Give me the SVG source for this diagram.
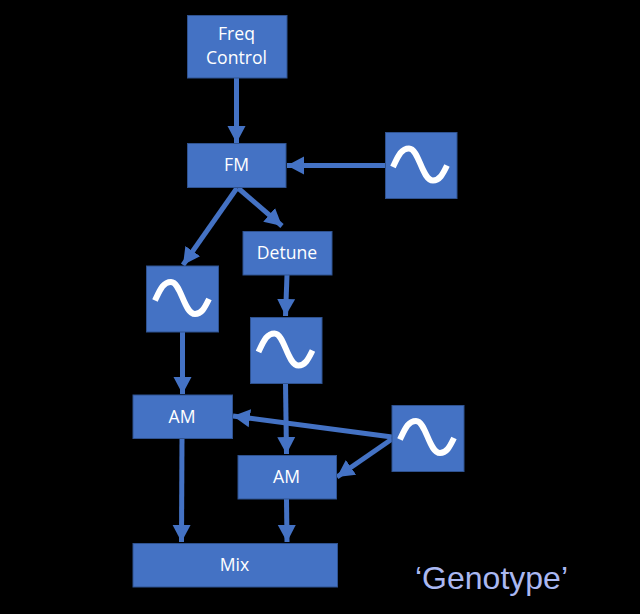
<svg xmlns="http://www.w3.org/2000/svg" width="640" height="614" viewBox="0 0 640 614">
<style>
.b{fill:#4472c4;stroke:#2f528f;stroke-width:1}
.t{font-family:"Open Sans","Noto Sans",sans-serif;font-size:17.600px;fill:#fff;text-anchor:middle}
.s{fill:none;stroke:#fff;stroke-width:6}
.c{fill:none;stroke:#4472c4;stroke-width:5;marker-end:url(#a)}
</style>
<defs>
<marker id="a" markerUnits="userSpaceOnUse" markerWidth="20" markerHeight="20" refX="17" refY="10" orient="auto"><path d="M0 1L17 10L0 19Z" fill="#4472c4"/></marker>
<path id="w" d="M-27 2.500C-22 -8 -19 -16 -11 -16C-1 -16 2 16 13 16C20 16 23 9 27 1"/>
</defs>
<rect width="640" height="614" fill="#000"/>
<g id="connectors">
<path class="c" d="M236.500 78L236.500 143"/>
<path class="c" d="M385 165.500L287 165.500"/>
<path class="c" d="M237 188L183 265"/>
<path class="c" d="M238 188L282 226"/>
<path class="c" d="M287 275L285.500 316"/>
<path class="c" d="M182.500 332L182.500 394"/>
<path class="c" d="M285.500 383L286.500 454"/>
<path class="c" d="M392 437L233 416"/>
<path class="c" d="M392 439L337 477"/>
<path class="c" d="M182 438L181.500 542"/>
<path class="c" d="M286.500 499L287 542"/>
</g>
<g id="freq"><rect class="b" x="187.500" y="15.500" width="99.500" height="62.500"/><text class="t" x="236.500" y="39.500">Freq</text><text class="t" x="236.500" y="64">Control</text></g>
<g id="fm"><rect class="b" x="187.500" y="143.500" width="98.500" height="44"/><text class="t" x="236.500" y="171">FM</text></g>
<g id="osc1"><rect class="b" x="385.500" y="132.500" width="71.500" height="66"/><use href="#w" class="s" x="420" y="164.500"/></g>
<g id="detune"><rect class="b" x="243" y="231.500" width="89" height="43.500"/><text class="t" x="287" y="259">Detune</text></g>
<g id="osc2"><rect class="b" x="146.500" y="266" width="72" height="66"/><use href="#w" class="s" x="182" y="298"/></g>
<g id="osc3"><rect class="b" x="250.500" y="317.500" width="71.500" height="66"/><use href="#w" class="s" x="285.500" y="349.500"/></g>
<g id="am1"><rect class="b" x="133" y="395" width="99.500" height="43.500"/><text class="t" x="182" y="423">AM</text></g>
<g id="osc4"><rect class="b" x="392" y="405.500" width="72" height="66"/><use href="#w" class="s" x="427" y="437"/></g>
<g id="am2"><rect class="b" x="238" y="455.500" width="98.500" height="43.500"/><text class="t" x="286.500" y="483">AM</text></g>
<g id="mix"><rect class="b" x="133" y="543.500" width="204.500" height="43.500"/><text class="t" x="234.500" y="571">Mix</text></g>
<text x="415" y="589" font-family="Liberation Sans,Arial,sans-serif" font-size="32" fill="#aab8f2">‘Genotype’</text>
</svg>
